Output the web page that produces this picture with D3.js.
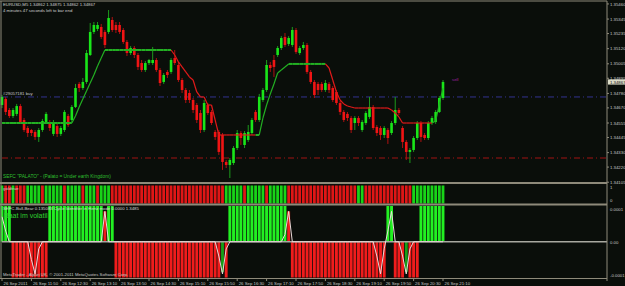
<!DOCTYPE html>
<html>
<head>
<meta charset="utf-8">
<script src="https://cdn.jsdelivr.net/npm/d3@7"></script>
<style>
html, body { margin: 0; padding: 0; background: #0a0e0a; }
svg { display: block; font-family: "Liberation Sans", Arial, sans-serif; }
</style>
</head>
<body>
<div id="chart"></div>
<script>
// EURUSD M5, 26 Sep 2011, 11:10 .. 21:10 (121 bars)
let open = [1.34692,1.34738,1.34654,1.34608,1.34624,1.34684,1.34578,1.34517,1.34502,1.34487,
1.34449,1.34502,1.34563,1.34555,1.34472,1.34532,1.34472,1.34502,1.34608,1.34578,
1.34677,1.34852,1.34821,1.34867,1.35072,1.35247,1.35270,1.35285,1.35247,1.35247,
1.35338,1.35300,1.35300,1.35262,1.35171,1.35087,1.35125,1.35072,1.35011,1.34958,
1.35011,1.35011,1.35034,1.34958,1.34867,1.34943,1.34943,1.35049,1.34996,1.34882,
1.34806,1.34783,1.34730,1.34692,1.34631,1.34502,1.34692,1.34639,1.34487,1.34487,
1.34464,1.34259,1.34236,1.34251,1.34365,1.34479,1.34388,1.34426,1.34479,1.34639,
1.34578,1.34730,1.34806,1.34996,1.35034,1.35072,1.35125,1.35209,1.35156,1.35148,
1.35262,1.35087,1.35125,1.35148,1.34943,1.34867,1.34852,1.34852,1.34806,1.34852,
1.34821,1.34791,1.34707,1.34639,1.34624,1.34593,1.34555,1.34593,1.34502,1.34555,
1.34601,1.34677,1.34525,1.34517,1.34464,1.34502,1.34479,1.34555,1.34654,1.34517,
1.34411,1.34335,1.34350,1.34441,1.34555,1.34464,1.34441,1.34555,1.34563,1.34639,
1.34745];
let high = [1.34768,1.34753,1.34669,1.34669,1.34700,1.34700,1.34593,1.34532,1.34510,1.34502,
1.34517,1.34586,1.34639,1.34578,1.34578,1.34548,1.34532,1.34654,1.34624,1.34692,
1.34852,1.34867,1.34897,1.35110,1.35315,1.35323,1.35323,1.35308,1.35262,1.35414,
1.35361,1.35323,1.35323,1.35277,1.35186,1.35140,1.35140,1.35087,1.35034,1.35026,
1.35042,1.35133,1.35049,1.34973,1.34935,1.34958,1.35049,1.35110,1.35019,1.34897,
1.34821,1.34806,1.34745,1.34707,1.34654,1.34730,1.34707,1.34654,1.34502,1.34502,
1.34479,1.34274,1.34289,1.34380,1.34502,1.34494,1.34494,1.34540,1.34593,1.34654,
1.34776,1.34821,1.35034,1.35019,1.35072,1.35140,1.35216,1.35239,1.35216,1.35285,
1.35277,1.35140,1.35171,1.35163,1.34958,1.34882,1.34867,1.34867,1.34882,1.34867,
1.34836,1.34806,1.34722,1.34654,1.34639,1.34608,1.34608,1.34608,1.34578,1.34646,
1.34753,1.34692,1.34540,1.34532,1.34532,1.34517,1.34570,1.34753,1.34669,1.34532,
1.34426,1.34365,1.34456,1.34570,1.34570,1.34479,1.34570,1.34608,1.34654,1.34760,
1.34882];
let low = [1.34669,1.34616,1.34593,1.34593,1.34608,1.34548,1.34487,1.34449,1.34456,1.34426,
1.34411,1.34487,1.34548,1.34494,1.34456,1.34449,1.34456,1.34487,1.34525,1.34563,
1.34669,1.34791,1.34806,1.34852,1.35064,1.35232,1.35254,1.35194,1.35125,1.35232,
1.35247,1.35239,1.35232,1.35156,1.35064,1.35072,1.35049,1.34958,1.34943,1.34943,
1.34996,1.34996,1.34943,1.34836,1.34852,1.34897,1.34928,1.34996,1.34867,1.34783,
1.34707,1.34707,1.34631,1.34555,1.34479,1.34487,1.34616,1.34540,1.34426,1.34312,
1.34198,1.34213,1.34137,1.34236,1.34350,1.34388,1.34365,1.34411,1.34464,1.34563,
1.34563,1.34715,1.34791,1.34943,1.34905,1.35057,1.35110,1.35133,1.35140,1.35133,
1.35080,1.35072,1.35110,1.34928,1.34852,1.34745,1.34768,1.34791,1.34791,1.34783,
1.34715,1.34692,1.34616,1.34563,1.34570,1.34479,1.34502,1.34532,1.34487,1.34540,
1.34586,1.34502,1.34456,1.34426,1.34441,1.34396,1.34464,1.34540,1.34616,1.34365,
1.34274,1.34251,1.34335,1.34426,1.34411,1.34426,1.34426,1.34540,1.34548,1.34631,
1.34730];
let close = [1.34753,1.34639,1.34608,1.34654,1.34684,1.34563,1.34502,1.34479,1.34479,1.34449,
1.34502,1.34570,1.34624,1.34517,1.34555,1.34472,1.34517,1.34639,1.34540,1.34677,
1.34821,1.34821,1.34867,1.35087,1.35247,1.35300,1.35300,1.35209,1.35148,1.35353,
1.35262,1.35262,1.35247,1.35171,1.35087,1.35125,1.35072,1.34981,1.34958,1.35011,
1.35034,1.35034,1.34958,1.34859,1.34920,1.34920,1.35034,1.35011,1.34882,1.34806,
1.34730,1.34730,1.34654,1.34578,1.34502,1.34707,1.34631,1.34555,1.34449,1.34335,
1.34259,1.34236,1.34274,1.34365,1.34479,1.34441,1.34479,1.34487,1.34578,1.34578,
1.34753,1.34806,1.34996,1.34973,1.34981,1.35125,1.35201,1.35148,1.35201,1.35262,
1.35095,1.35125,1.35148,1.34943,1.34867,1.34768,1.34806,1.34806,1.34859,1.34806,
1.34730,1.34707,1.34639,1.34578,1.34593,1.34502,1.34593,1.34555,1.34563,1.34631,
1.34677,1.34517,1.34479,1.34464,1.34517,1.34441,1.34555,1.34654,1.34631,1.34411,
1.34335,1.34350,1.34441,1.34555,1.34449,1.34441,1.34555,1.34593,1.34639,1.34745,
1.34867];

// trailing line and its direction (1 = up / green, 0 = down / red)
let trail = [1.34555,1.34555,1.34555,1.34555,1.34555,1.34555,1.34555,1.34555,1.34555,1.34555,
1.34555,1.34555,1.34555,1.34555,1.34555,1.34555,1.34555,1.34555,1.34555,1.34555,
1.34608,1.34677,1.34738,1.34798,1.34859,1.34920,1.34988,1.35049,1.35110,
1.35110,1.35110,1.35110,1.35110,1.35110,1.35110,1.35110,1.35110,1.35110,1.35110,
1.35110,1.35110,1.35110,1.35110,1.35110,1.35110,1.35110,1.35110,
1.35072,1.35019,1.34981,1.34943,1.34905,1.34882,1.34791,1.34753,1.34753,1.34692,1.34692,1.34578,
1.34464,1.34464,1.34464,1.34464,1.34464,1.34464,1.34464,1.34464,1.34464,1.34464,1.34464,
1.34464,1.34593,1.34692,1.34776,1.34852,1.34935,1.34958,1.34981,1.35004,
1.35004,1.35004,1.35004,1.35004,1.35004,1.35004,1.35004,1.35004,1.35004,1.35004,
1.34973,1.34882,1.34791,1.34730,1.34700,1.34684,1.34677,
1.34669,1.34669,1.34669,1.34669,1.34669,1.34669,1.34669,1.34669,1.34669,1.34669,
1.34654,1.34631,1.34601,
1.34555,1.34555,1.34555,1.34555,1.34555,1.34555,1.34555,1.34555,1.34555,
1.34570,1.34700,1.34821];
let trend = [1,1,1,1,1,1,1,1,1,1,1,1,1,1,1,1,1,1,1,1,1,1,1,1,1,1,1,1,1,1,1,1,1,1,1,1,1,1,1,1,1,1,1,1,1,1,1,
0,0,0,0,0,0,0,0,0,0,0,0,0,0,0,0,0,0,0,0,0,0,0,
1,1,1,1,1,1,1,1,1,1,1,1,1,1,1,1,1,1,1,
0,0,0,0,0,0,0,0,0,0,0,0,0,0,0,0,0,0,0,0,0,0,0,0,0,0,0,0,0,
1,1,1];

// second window: up/down bars
let bias = [1,0,0,1,0,0,0,
1,1,1,1,0,1,1,1,1,1,0,1,1,1,1,0,1,1,1,0,1,1,1,
0,0,0,0,0,0,0,0,0,0,0,0,0,0,0,0,0,0,0,0,0,0,0,0,0,0,0,0,0,0,0,
1,1,1,1,1,0,1,1,1,1,1,0,1,1,1,1,1,
0,0,0,0,0,0,0,0,0,0,0,0,0,0,0,0,0,0,0,
1,1,
0,0,0,0,0,0,0,0,0,0,0,0,0,
1,1,1,1,1,1,1,1,1];

// third window: cycle histogram (green / red buffers) and signal line
let cycGreen = [0.0001,0.0001,0.0001,0,0,0,0,0,0,0,0,0,0,
0.0001,0.0001,0.0001,0.0001,0.0001,0.0001,0.0001,0.0001,0.0001,0.0001,0.0001,0.0001,0.0001,0.0001,0.0001,
0,0.0001,0.0001,
0,0,0,0,0,0,0,0,0,0,0,0,0,0,0,0,0,0,0,0,0,0,0,0,0,0,0,0,0,
-0.000085,0,
0.0001,0.0001,0.0001,0.0001,0.0001,0.0001,0.0001,0.0001,0.0001,0.0001,0.0001,0.0001,0.0001,0.0001,0.0001,0.0001,
0,
0,0,0,0,0,0,0,0,0,0,0,0,0,0,0,0,0,0,0,0,0,0,0,0,0,0,
0.0001,0.0001,0,0,0,-0.000085,0,0,0,
0.0001,0.0001,0.0001,0.0001,0.0001,0.0001,0.0001];
let cycRed = [0,0,0,-0.0001,-0.0001,-0.0001,-0.0001,-0.0001,-0.0001,-0.0001,-0.0001,-0.0001,-0.0001,
0,0,0,0,0,0,0,0,0,0,0,0,0,0,0,
0.000085,0,0,
-0.0001,-0.0001,-0.0001,-0.0001,-0.0001,-0.0001,-0.0001,-0.0001,-0.0001,-0.0001,-0.0001,-0.0001,-0.0001,-0.0001,-0.0001,
-0.0001,-0.0001,-0.0001,-0.0001,-0.0001,-0.0001,-0.0001,-0.0001,-0.0001,-0.0001,-0.0001,-0.0001,-0.0001,-0.0001,
0,-0.0001,
0,0,0,0,0,0,0,0,0,0,0,0,0,0,0,0,
0.000085,
-0.0001,-0.0001,-0.0001,-0.0001,-0.0001,-0.0001,-0.0001,-0.0001,-0.0001,-0.0001,-0.0001,-0.0001,-0.0001,
-0.0001,-0.0001,-0.0001,-0.0001,-0.0001,-0.0001,-0.0001,-0.0001,-0.0001,-0.0001,-0.0001,-0.0001,-0.0001,
0,0,-0.0001,-0.0001,-0.0001,0,-0.0001,-0.0001,-0.0001,
0,0,0,0,0,0,0];
let cycLine = [0.00007,0.00003,0,0,0,0,0,0,-0.00005,-0.00009,-0.00002,0,0,
0,0,0,0,0,0,0,0,0,0,0,0,0,0,0,0.000085,0,0,
0,0,0,0,0,0,0,0,0,0,0,0,0,0,0,0,0,0,0,0,0,0,0,0,0,0,0,0,-0.00004,
-0.00009,-0.00002,
0,0,0,0,0,0,0,0,0,0,0,0,0,0,0,0.00002,
0.000085,
0,0,0,0,0,0,0,0,0,0,0,0,0,0,0,0,0,0,0,0,0,0,0,-0.00004,-0.00009,-0.00002,
0.00003,0.000085,0,0,-0.00004,-0.00009,-0.00002,0,0,
0,0,0,0,0,0,0];

let priceTicks = [1.35460,1.35345,1.35235,1.35120,1.35005,1.34895,1.34780,1.34670,1.34555,1.34445,1.34330,1.34220,1.34105];
let timeTicks = ['11:10','11:50','12:30','13:10','13:50','14:30','15:10','15:50','16:30','17:10','17:50','18:30','19:10','19:50','20:30','21:10'];
let timeLabels = ['26 Sep 2011','26 Sep 11:50','26 Sep 12:30','26 Sep 13:10','26 Sep 13:50','26 Sep 14:30','26 Sep 15:10','26 Sep 15:50','26 Sep 16:30','26 Sep 17:10','26 Sep 17:50','26 Sep 18:30','26 Sep 19:10','26 Sep 19:50','26 Sep 20:30','26 Sep 21:10'];
let orderPrice = 1.34753;
let stopPrice = 1.34289;
let bidPrice = 1.34867;

let w = 625;
let h = 286;
let right = 607;

// bar times, one every 5 minutes from 11:10
let fmt = d3.timeFormat('%H:%M');
let t0 = new Date(2011, 8, 26, 11, 10);
let times = open.map((d, i) => fmt(d3.timeMinute.offset(t0, i * 5)));
let bars = times.map((t, i) => ({t: t, o: open[i], h: high[i], l: low[i], c: close[i]}));

let svg = d3.select('#chart').
append('svg').
attr('width', w).
attr('height', h);

svg.append('rect').attr('width', w).attr('height', h).attr('fill', '#0a0e0a');

let x = d3.scalePoint().
domain(times).
range([2, 443]);

let y = d3.scaleLinear().
domain([1.34099, 1.35490]).
range([183, 0]);

let y2 = d3.scaleLinear().domain([0, 1]).range([203.5, 185.5]);
let y3 = d3.scaleLinear().domain([-0.0001, 0.0001]).range([277.5, 206]);

let main = svg.append('g');

// order / stop lines
main.append('line').
attr('x1', 2).attr('x2', right).
attr('y1', y(orderPrice)).attr('y2', y(orderPrice)).
attr('stroke', '#33338f').attr('stroke-width', 1).
attr('stroke-dasharray', '6,3,1,3');
main.append('line').
attr('x1', 2).attr('x2', right).
attr('y1', y(stopPrice)).attr('y2', y(stopPrice)).
attr('stroke', '#a01212').attr('stroke-width', 1).
attr('stroke-dasharray', '6,3,1,3');

// candles
let bw = 2.6;
main.selectAll('.wick').
data(bars).
enter().
append('line').
attr('x1', d => x(d.t)).attr('x2', d => x(d.t)).
attr('y1', d => y(d.h)).attr('y2', d => y(d.l)).
attr('stroke', d => d.c >= d.o ? '#1c9a1c' : '#b01010').
attr('stroke-width', 1);

main.selectAll('.body').
data(bars).
enter().
append('rect').
attr('x', d => x(d.t) - bw / 2).
attr('width', bw).
attr('y', d => y(Math.max(d.o, d.c))).
attr('height', d => Math.max(1, Math.abs(y(d.o) - y(d.c)))).
attr('fill', d => d.c >= d.o ? '#19e619' : '#f01414');

// trailing line
let segs = d3.range(1, trail.length).map(i => ({a: i - 1, b: i}));
main.selectAll('.trail').
data(segs).
enter().
append('line').
attr('x1', d => x(times[d.a])).attr('y1', d => y(trail[d.a])).
attr('x2', d => x(times[d.b])).attr('y2', d => y(trail[d.b])).
attr('stroke', d => trend[d.b] ? '#23b023' : '#e01a1a').
attr('stroke-width', d => trend[d.b] && trail[d.a] === trail[d.b] ? 2 : 1.2);

// texts in main window
let small = '4.3px';
main.append('text').attr('x', 3).attr('y', 6).attr('fill', '#d0d0d0').style('font-size', small).
text('EURUSD,M5  1.34862 1.34875 1.34862 1.34867');
main.append('text').attr('x', 3).attr('y', 12).attr('fill', '#d0d0d0').style('font-size', small).
text('4 minutes 47 seconds left to bar end');
main.append('text').attr('x', 3).attr('y', y(orderPrice) - 2).attr('fill', '#c8c8c8').style('font-size', small).
text('#29057181 buy');
main.append('text').attr('x', 3).attr('y', 178).attr('fill', '#2fbf2f').style('font-size', '4.8px').
text('SEFC "PALATO" - (Palato = Under earth Kingdom)');
main.append('text').attr('x', 452).attr('y', 80.5).attr('fill', '#a020a0').style('font-size', small).
text('sell');

// second window
svg.append('g').selectAll('rect').
data(bars).
enter().
append('rect').
attr('x', d => x(d.t) - 1.4).
attr('width', 2.8).
attr('y', y2(1)).
attr('height', y2(0) - y2(1)).
attr('fill', (d, i) => bias[i] ? '#18d418' : '#e01616');
svg.append('text').attr('x', 3).attr('y', 190).attr('fill', '#d0d0d0').style('font-size', small).
text('goldtrue');

// third window
let g3 = svg.append('g');
g3.selectAll('.red').
data(cycRed).
enter().
append('rect').
attr('x', (d, i) => x(times[i]) - 1.45).
attr('width', 2.9).
attr('y', d => Math.min(y3(d), y3(0))).
attr('height', d => Math.abs(y3(d) - y3(0))).
attr('fill', '#f01c1c');
g3.selectAll('.green').
data(cycGreen).
enter().
append('rect').
attr('x', (d, i) => x(times[i]) - 1.45).
attr('width', 2.9).
attr('y', d => Math.min(y3(d), y3(0))).
attr('height', d => Math.abs(y3(d) - y3(0))).
attr('fill', d => d < 0 ? '#17a017' : '#22f022');
g3.append('line').
attr('x1', 2).attr('x2', right).
attr('y1', y3(0)).attr('y2', y3(0)).
attr('stroke', '#a8a8a0').attr('stroke-width', 1.5);
g3.append('path').
datum(cycLine).
attr('d', d3.line().x((d, i) => x(times[i])).y(d => y3(d))).
attr('fill', 'none').
attr('stroke', '#eadada').
attr('stroke-width', 1);
g3.append('text').attr('x', 3).attr('y', 209.5).attr('fill', '#d8d8d8').style('font-size', small).
text('SEFC-Bull-Bear 0.135083 Cycle Identifier in Hertz mode 0.0000 1.3485');
g3.append('text').attr('x', 4).attr('y', 217.5).attr('fill', '#2fcf2f').style('font-size', '7px').
text('Baat im volatil');
g3.append('text').attr('x', 3).attr('y', 275.5).attr('fill', '#c8c8c8').style('font-size', small).
text('MetaTrader - Alpari UK, \u00a9 2001-2011 MetaQuotes Software Corp.');

// frame
let frame = '#8e8a7a';
svg.append('line').attr('x1', 0).attr('x2', right).attr('y1', 1).attr('y2', 1).attr('stroke', frame).attr('stroke-width', 1);
svg.append('line').attr('x1', 1).attr('x2', 1).attr('y1', 1).attr('y2', 278).attr('stroke', frame).attr('stroke-width', 1);
svg.append('line').attr('x1', right).attr('x2', right).attr('y1', 1).attr('y2', 281).attr('stroke', frame).attr('stroke-width', 1);
[183, 204.5].forEach(yy => {
  svg.append('line').attr('x1', 0).attr('x2', right).attr('y1', yy).attr('y2', yy).attr('stroke', frame).attr('stroke-width', 2);
});
svg.append('line').attr('x1', 0).attr('x2', right).attr('y1', 278.5).attr('y2', 278.5).attr('stroke', frame).attr('stroke-width', 1);

// price axis
let axisText = '#c8c8c8';
let pa = svg.append('g').attr('transform', 'translate(' + right + ',0)');
pa.selectAll('text').
data(priceTicks).
enter().
append('text').
attr('x', 3).
attr('y', d => y(d) + 1.6).
attr('fill', axisText).
style('font-size', small).
text(d => d.toFixed(5));
pa.selectAll('line').
data(priceTicks).
enter().
append('line').
attr('x1', 0).attr('x2', 2).
attr('y1', d => y(d)).attr('y2', d => y(d)).
attr('stroke', frame);
pa.append('rect').attr('x', 1).attr('y', y(bidPrice) - 2.6).attr('width', 17).attr('height', 5.2).attr('fill', '#dcdcc8');
pa.append('text').attr('x', 3).attr('y', y(bidPrice) + 1.6).attr('fill', '#101010').style('font-size', small).text(bidPrice.toFixed(5));

let sideLabels = [{v: '1', y: 189}, {v: '0', y: 202}, {v: '0.0001', y: 210.5}, {v: '0.00', y: 243.5}, {v: '-0.0001', y: 276.5}];
pa.selectAll('.side').
data(sideLabels).
enter().
append('text').
attr('x', 3).
attr('y', d => d.y).
attr('fill', axisText).
style('font-size', small).
text(d => d.v);

// time axis
let ta = svg.append('g');
ta.selectAll('line').
data(timeTicks).
enter().
append('line').
attr('x1', d => x(d)).attr('x2', d => x(d)).
attr('y1', 278).attr('y2', 281).
attr('stroke', frame);
ta.selectAll('text').
data(timeTicks).
enter().
append('text').
attr('x', d => x(d) + 1.5).
attr('y', 284.5).
attr('fill', axisText).
style('font-size', small).
text((d, i) => timeLabels[i]);
</script>
</body>
</html>
